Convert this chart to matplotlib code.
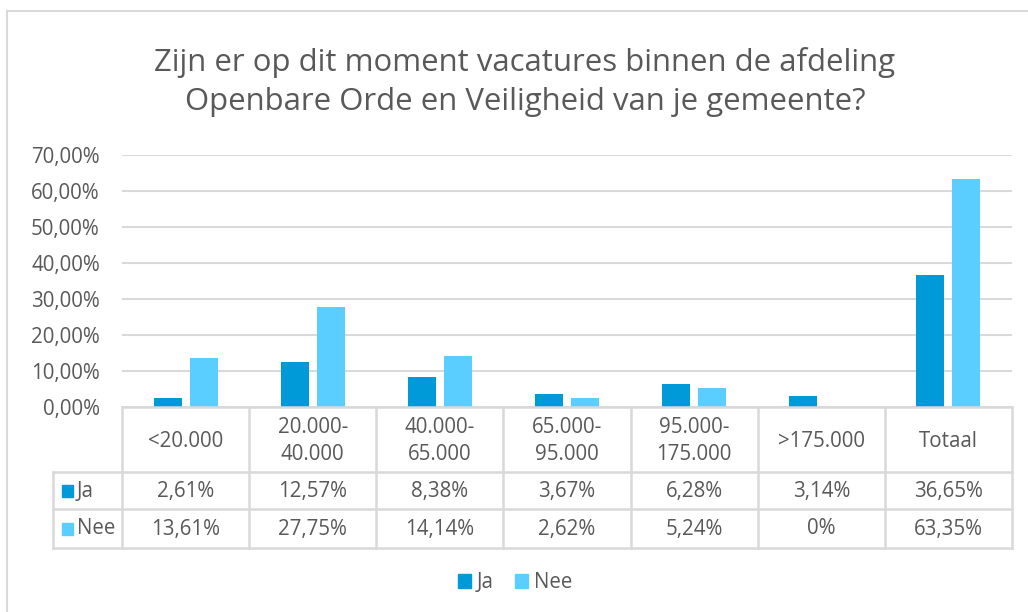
import numpy as np
import matplotlib.pyplot as plt
from matplotlib.patches import Rectangle

# =========================
# DATA
# =========================
categories = ["<20.000", "20.000-\n40.000", "40.000-\n65.000", "65.000-\n95.000",
              "95.000-\n175.000", ">175.000", "Totaal"]
ja = [2.61, 12.57, 8.38, 3.67, 6.28, 3.14, 36.65]
nee = [13.61, 27.75, 14.14, 2.62, 5.24, 0.0, 63.35]
ja_labels = ["2,61%", "12,57%", "8,38%", "3,67%", "6,28%", "3,14%", "36,65%"]
nee_labels = ["13,61%", "27,75%", "14,14%", "2,62%", "5,24%", "0%", "63,35%"]
series_names = ["Ja", "Nee"]
title = "Zijn er op dit moment vacatures binnen de afdeling\nOpenbare Orde en Veiligheid van je gemeente?"

# =========================
# STYLE
# =========================
plt.rcParams['font.family'] = ['Open Sans', 'DejaVu Sans']
TXT = "#595959"
GRID = "#d9d9d9"
C_JA = "#009ad9"
C_NEE = "#5acfff"
FS = 14.8

W, H = 1028, 612
fig = plt.figure(figsize=(W / 100, H / 100), dpi=100)


def px_axes(x0, y0, x1, y1):
    # pixel box (top-left origin) -> figure axes
    return fig.add_axes([x0 / W, 1 - y1 / H, (x1 - x0) / W, (y1 - y0) / H])


# outer chart border (only top and left edges are in frame)
fig.add_artist(plt.Line2D([7 / W, 1], [1 - 11 / H] * 2, color=GRID, linewidth=1.5))
fig.add_artist(plt.Line2D([7 / W] * 2, [0, 1 - 11 / H], color=GRID, linewidth=1.5))

fig.text(525 / W, 1 - 82 / H, title, ha="center", va="center",
         fontsize=22.4, color=TXT, linespacing=1.42)

# =========================
# BARS
# =========================
x_left, x_right = 122, 1012
y_top, y_bot = 155, 407
ax = px_axes(x_left, y_top, x_right, y_bot)
x = np.arange(len(categories))
bw = 0.22
off = 0.142
ax.bar(x - off, ja, bw, color=C_JA, zorder=3)
ax.bar(x + off, nee, bw, color=C_NEE, zorder=3)
ax.set_xlim(-0.5, len(categories) - 0.5)
ax.set_ylim(0, 70)
ax.set_yticks(np.arange(0, 71, 10))
ax.set_yticklabels([f"{v},00%" for v in range(0, 71, 10)], color=TXT, fontsize=FS)
ax.tick_params(axis="y", length=0, pad=16)
ax.set_xticks([])
ax.grid(axis="y", color=GRID, linewidth=1.5, zorder=0)
for s in ax.spines.values():
    s.set_visible(False)

# =========================
# DATA TABLE
# =========================
tx0 = 53
head_w = (x_left - tx0) / ((x_right - x_left) / len(categories))
tab = px_axes(tx0, y_bot, x_right, 548)
tab.set_xlim(-0.5 - head_w, len(categories) - 0.5)
tab.set_ylim(141, 0)
tab.axis("off")
lc = dict(color=GRID, linewidth=1.8, clip_on=False)
rows = [0, 65, 102, 141]
# horizontal lines
tab.plot([-0.5, len(categories) - 0.5], [0, 0], **lc)
for r in rows[1:]:
    tab.plot([-0.5 - head_w, len(categories) - 0.5], [r, r], **lc)
# vertical lines
for i in range(len(categories) + 1):
    tab.plot([i - 0.5, i - 0.5], [0, 141], **lc)
tab.plot([-0.5 - head_w] * 2, [65, 141], **lc)

for i, c in enumerate(categories):
    tab.text(i, 34, c, ha="center", va="center", fontsize=FS, color=TXT, linespacing=1.35)
    tab.text(i, 84, ja_labels[i], ha="center", va="center", fontsize=FS, color=TXT)
    tab.text(i, 122, nee_labels[i], ha="center", va="center", fontsize=FS, color=TXT)

kx = -0.5 - head_w + 0.07
for r, name, col in [(84, series_names[0], C_JA), (122, series_names[1], C_NEE)]:
    tab.add_patch(Rectangle((kx, r - 6), 0.09, 12, color=col, clip_on=False))
    tab.text(kx + 0.12, r, name, ha="left", va="center", fontsize=FS, color=TXT)

# =========================
# LEGEND
# =========================
h1 = Rectangle((0, 0), 1, 1, color=C_JA)
h2 = Rectangle((0, 0), 1, 1, color=C_NEE)
fig.legend([h1, h2], series_names, loc="center", bbox_to_anchor=(515 / W, 1 - 583 / H),
           ncol=2, frameon=False, fontsize=FS, labelcolor=TXT,
           handlelength=0.65, handleheight=0.65, handletextpad=0.3, columnspacing=1.0)

fig.savefig("out.png", dpi=100)
